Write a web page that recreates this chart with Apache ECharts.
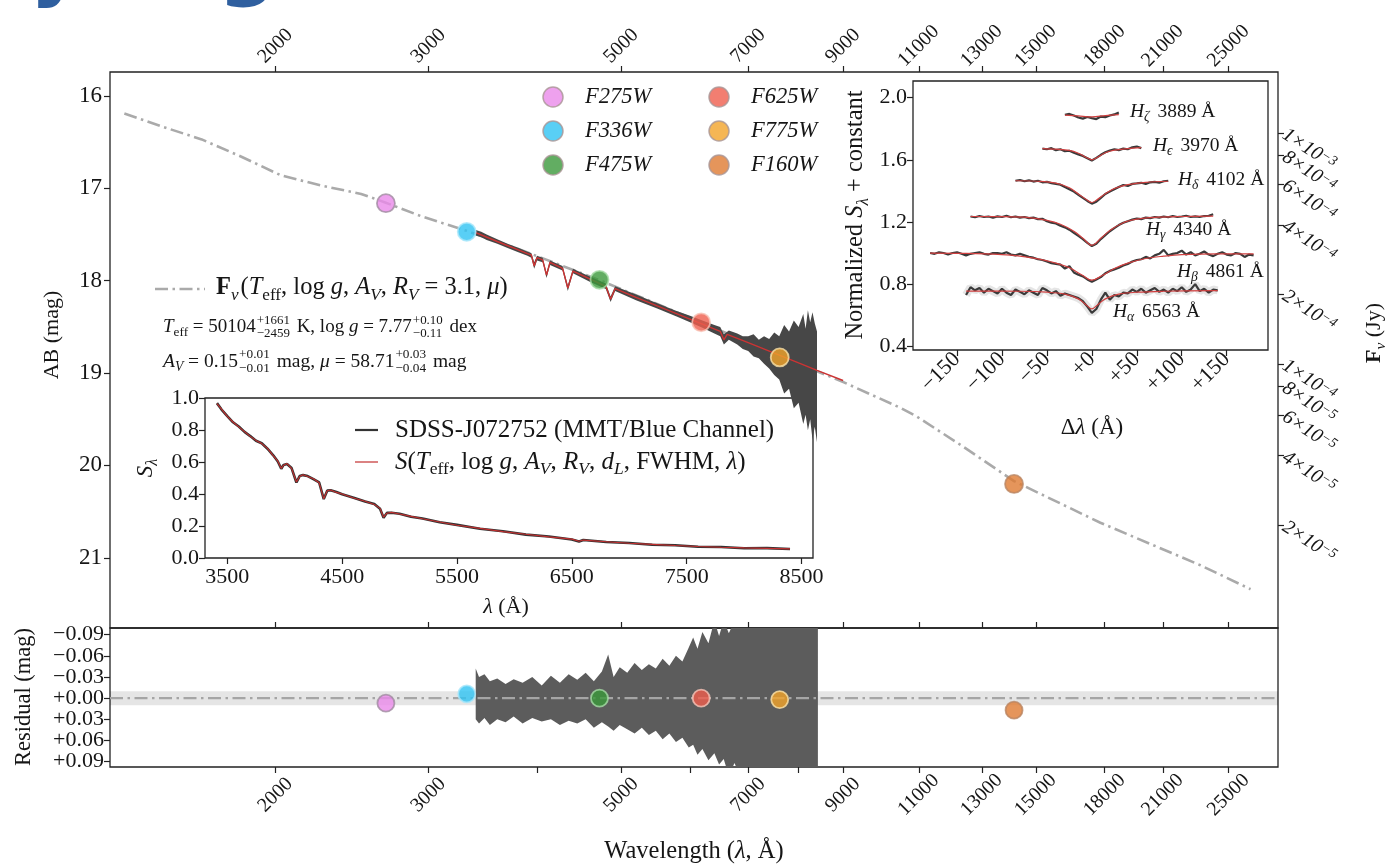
<!DOCTYPE html>
<html><head><meta charset="utf-8">
<script src="https://cdn.jsdelivr.net/npm/echarts@6/dist/echarts.min.js"></script>
<style>html,body{margin:0;padding:0;background:#fff}#c{width:1388px;height:865px}</style>
</head><body><div id="c"></div><script>
// ---------------- DATA ----------------
const waveTickLabels = [2000,3000,5000,7000,9000,11000,13000,15000,18000,21000,25000];
const waveMinorTicks = [4000,6000,8000];
const magTicks = [16,17,18,19,20,21];
const fluxTicks = [1e-3,8e-4,6e-4,4e-4,2e-4,1e-4,8e-5,6e-5,4e-5,2e-5];
const residTicks = [-0.09,-0.06,-0.03,0,0.03,0.06,0.09];
const insetWaveTicks = [3500,4500,5500,6500,7500,8500];
const insetFluxTicks = [0,0.2,0.4,0.6,0.8,1.0];
const dlTicks = [-150,-100,-50,0,50,100,150];
const normTicks = [0.4,0.8,1.2,1.6,2.0];

const filterNames = ['F275W','F336W','F475W','F625W','F775W','F160W'];
const filterWave  = [2680, 3320, 4720, 6180, 7610, 14160];
const filterMag   = [17.16, 17.47, 17.99, 18.45, 18.83, 20.20];
const filterResid = [0.007, -0.006, 0.0, 0.0, 0.002, 0.017];
const filterColors = ['#ea8aea','#2fc3f3','#3b993b','#ef5e4d','#f2a42a','#de7b32'];
const filterEdges  = ['#a08ca0','#a8e6fa','#a6dca6','#f7c4b8','#fbe2a8','#b98462'];

// SED model (dash-dot)
const modelWave = [1340,1480,1645,1830,2030,2260,2510,2670,2940,3320,3840,4740,6180,7640,9020,10500,10940,12300,14160,17800,23200,26500];
const modelMag  = [16.19,16.33,16.47,16.66,16.86,16.97,17.06,17.15,17.30,17.46,17.67,18.00,18.45,18.82,19.10,19.38,19.47,19.78,20.17,20.62,21.08,21.34];

// observed spectrum in AB (envelope of the noisy trace)
const specWave = [3400,3450,3500,3600,3700,3800,3900,3940,3970,4000,4060,4102,4140,4280,4340,4400,4600,4800,4861,4920,5200,5500,5800,6000,6200,6400,6500,6563,6650,6800,6900,7000,7100,7200,7300,7400,7500,7600,7700,7800,7900,8000,8100,8150,8200,8250,8300,8350,8400];
const specHi   = [17.45,17.47,17.50,17.55,17.60,17.64,17.685,17.70,17.80,17.73,17.75,17.91,17.78,17.84,18.05,17.87,17.955,18.03,18.17,18.06,18.15,18.245,18.33,18.38,18.43,18.48,18.50,18.58,18.54,18.57,18.60,18.60,18.58,18.64,18.60,18.63,18.56,18.60,18.48,18.55,18.43,18.50,18.36,18.52,18.32,18.45,18.34,18.46,18.55];
const specLo   = [17.51,17.53,17.56,17.60,17.645,17.69,17.73,17.75,17.87,17.78,17.80,17.97,17.83,17.89,18.11,17.92,18.01,18.09,18.23,18.11,18.21,18.30,18.39,18.45,18.51,18.57,18.60,18.69,18.64,18.69,18.74,18.76,18.82,18.84,18.90,18.95,19.02,19.07,19.22,19.17,19.38,19.32,19.55,19.45,19.62,19.50,19.72,19.58,19.75];
// best-fit spectral model in AB
const fitWave = [3400,3600,3800,3900,3940,3970,4000,4060,4102,4140,4280,4340,4400,4600,4800,4861,4920,5200,5500,6000,6500,6563,6620,7000,7500,8000,8400,9000];
const fitMag  = [17.48,17.575,17.664,17.707,17.72,17.84,17.75,17.775,17.94,17.80,17.865,18.08,17.895,17.98,18.06,18.20,18.085,18.18,18.273,18.416,18.548,18.64,18.58,18.67,18.783,18.89,18.97,19.08];

// residuals of the spectrum (envelope)
const residWave = [3400,3430,3480,3530,3600,3680,3760,3850,3950,4050,4150,4250,4350,4450,4550,4650,4750,4830,4900,4980,5080,5180,5280,5380,5480,5580,5680,5780,5880,5980,6050,6120,6200,6300,6400,6480,6560,6650,6750,6850,6950,7050,7150,7250,7400,7600,7800,8000,8200,8420];
const residUp   = [-0.042,-0.030,-0.034,-0.024,-0.028,-0.020,-0.027,-0.022,-0.030,-0.018,-0.032,-0.022,-0.034,-0.026,-0.036,-0.024,-0.038,-0.062,-0.030,-0.044,-0.036,-0.050,-0.040,-0.048,-0.042,-0.056,-0.046,-0.060,-0.052,-0.072,-0.086,-0.070,-0.094,-0.078,-0.11,-0.088,-0.11,-0.092,-0.11,-0.11,-0.11,-0.11,-0.11,-0.11,-0.11,-0.11,-0.11,-0.11,-0.11,-0.11];
const residDown = [0.030,0.036,0.028,0.038,0.030,0.034,0.026,0.036,0.028,0.033,0.030,0.038,0.032,0.036,0.030,0.042,0.034,0.040,0.046,0.038,0.044,0.050,0.042,0.052,0.046,0.058,0.050,0.062,0.056,0.070,0.066,0.080,0.072,0.088,0.078,0.094,0.086,0.11,0.092,0.11,0.11,0.11,0.11,0.11,0.11,0.11,0.11,0.11,0.11,0.11];

// inset: normalised spectrum
const insetWave  = [3410,3450,3500,3550,3600,3650,3700,3750,3800,3850,3900,3940,3970,3990,4020,4060,4102,4130,4160,4200,4250,4300,4340,4370,4400,4450,4500,4600,4700,4780,4830,4861,4890,4930,5000,5100,5200,5350,5500,5700,5900,6100,6300,6500,6563,6600,6800,7000,7200,7400,7600,7800,8000,8200,8400];
const insetObs   = [0.968,0.928,0.887,0.848,0.822,0.788,0.762,0.733,0.717,0.683,0.642,0.603,0.558,0.582,0.588,0.562,0.472,0.512,0.518,0.512,0.493,0.472,0.368,0.421,0.423,0.412,0.398,0.377,0.353,0.337,0.308,0.252,0.282,0.283,0.277,0.258,0.247,0.223,0.207,0.183,0.167,0.146,0.134,0.116,0.103,0.113,0.100,0.094,0.083,0.080,0.070,0.069,0.061,0.062,0.056];
const insetModel = [0.965,0.930,0.885,0.850,0.820,0.790,0.760,0.735,0.715,0.685,0.640,0.605,0.560,0.580,0.590,0.560,0.475,0.510,0.520,0.510,0.495,0.470,0.370,0.420,0.425,0.410,0.400,0.375,0.355,0.335,0.310,0.255,0.280,0.285,0.275,0.260,0.245,0.225,0.205,0.185,0.165,0.148,0.132,0.118,0.105,0.112,0.102,0.092,0.085,0.078,0.072,0.067,0.063,0.060,0.057];

// inset: Balmer line profiles (observed sampled every 5 Å, model at listed offsets)
const lineNames = ['ζ','ϵ','δ','γ','β','α'];
const lineRest  = ['3889','3970','4102','4340','4861','6563'];
const zetaStart = -30, epsStart = -55, deltaStart = -85, gammaStart = -135, betaStart = -180, alphaStart = -140;
const zetaObs  = [1.89,1.895,1.885,1.872,1.865,1.875,1.868,1.862,1.878,1.874,1.885,1.892,1.905];
const epsObs   = [1.672,1.668,1.675,1.662,1.668,1.655,1.658,1.645,1.635,1.625,1.61,1.595,1.612,1.632,1.648,1.66,1.668,1.662,1.672,1.668,1.68,1.685,1.675];
const deltaObs = [1.465,1.47,1.462,1.468,1.46,1.465,1.455,1.458,1.45,1.445,1.44,1.425,1.41,1.395,1.375,1.355,1.335,1.318,1.33,1.355,1.38,1.395,1.41,1.425,1.438,1.432,1.445,1.448,1.452,1.445,1.455,1.458,1.452,1.462,1.465];
const gammaObs = [1.235,1.23,1.238,1.232,1.235,1.228,1.236,1.232,1.24,1.23,1.235,1.228,1.232,1.225,1.228,1.218,1.22,1.205,1.195,1.19,1.175,1.165,1.15,1.13,1.11,1.09,1.065,1.045,1.06,1.09,1.115,1.14,1.16,1.18,1.195,1.205,1.215,1.222,1.218,1.228,1.225,1.232,1.228,1.235,1.23,1.238,1.232,1.235,1.24,1.232,1.236,1.232,1.238,1.24,1.25];
const betaObs  = [1.0,0.995,1.005,1.0,0.99,1.0,1.005,0.995,0.985,0.995,1.0,1.005,0.995,0.99,1.0,1.0,0.995,1.005,0.99,0.985,0.995,0.985,0.975,0.97,0.96,0.955,0.945,0.935,0.93,0.925,0.9,0.915,0.875,0.86,0.85,0.83,0.815,0.83,0.845,0.87,0.885,0.895,0.905,0.92,0.93,0.945,0.955,0.96,0.975,0.965,0.985,0.995,1.02,0.985,0.995,1.0,1.015,0.99,1.005,0.985,0.995,1.01,0.99,0.98,0.995,1.005,0.99,0.985,1.0,0.995,0.975,0.99,0.985];
const alphaObs = [0.73,0.78,0.76,0.775,0.745,0.77,0.755,0.74,0.77,0.745,0.73,0.765,0.75,0.735,0.76,0.745,0.73,0.775,0.76,0.74,0.755,0.725,0.74,0.73,0.72,0.71,0.69,0.655,0.615,0.64,0.70,0.745,0.70,0.73,0.72,0.745,0.74,0.765,0.75,0.77,0.745,0.76,0.775,0.75,0.765,0.745,0.77,0.755,0.78,0.75,0.765,0.80,0.755,0.77,0.745,0.765,0.76];
const zetaModelX  = [-30,-15,0,15,30];
const zetaModel   = [1.888,1.882,1.876,1.884,1.89];
const epsModelX   = [-55,-40,-25,-15,-5,0,5,15,25,40,55];
const epsModel    = [1.672,1.668,1.66,1.642,1.612,1.6,1.612,1.645,1.662,1.672,1.678];
const deltaModelX = [-85,-60,-40,-25,-15,-5,0,5,15,25,40,60,85];
const deltaModel  = [1.465,1.462,1.45,1.42,1.38,1.34,1.325,1.34,1.382,1.415,1.44,1.455,1.462];
const gammaModelX = [-135,-100,-70,-50,-35,-20,-10,0,10,20,35,50,70,100,135];
const gammaModel  = [1.235,1.234,1.228,1.21,1.185,1.14,1.095,1.05,1.095,1.145,1.195,1.218,1.23,1.235,1.238];
const betaModelX  = [-180,-140,-100,-80,-60,-40,-25,-10,0,10,25,40,60,80,100,140,180];
const betaModel   = [1.0,0.998,0.99,0.98,0.962,0.935,0.905,0.855,0.825,0.85,0.9,0.935,0.965,0.98,0.99,0.995,0.995];
const alphaModelX = [-140,-80,-50,-30,-15,-5,0,5,15,30,50,80,140];
const alphaModel  = [0.755,0.754,0.748,0.735,0.705,0.66,0.64,0.66,0.705,0.735,0.748,0.754,0.758];

// ---------------- HELPERS ----------------
const FONT = 'Liberation Serif';
const INK = '#161616';
const L = Math.log10;
const ab = f => -2.5 * Math.log10(f / 3631);
const WMIN = L(1290), WMAX = L(28500);
const cx = document.createElement('canvas').getContext('2d');
function fstr(sz, it, b){ return (it?'italic ':'')+(b?'bold ':'')+sz+'px "'+FONT+'"'; }
function measure(t, sz, it, b){ cx.font = fstr(sz,it,b); return cx.measureText(t).width; }
function txt(x,y,t,sz,it,b,color){
  return {type:'text', x, y, silent:true, style:{text:t, fontSize:sz, fontFamily:FONT, fontStyle: it?'italic':'normal', fontWeight: b?'bold':'normal', fill: color||INK, align:'left', verticalAlign:'middle'}};
}
function mathRow(parts, size, color){
  let x = 0; const ch = [];
  for (const p of parts){
    if (typeof p === 'string'){ ch.push(txt(x,0,p,size,false,false,color)); x += measure(p,size,false,false); }
    else if (p.hi !== undefined){
      const s = size*0.68;
      const w = Math.max(measure(p.hi,s), measure(p.lo,s));
      ch.push(txt(x+1, -size*0.36, p.hi, s,false,false,color));
      ch.push(txt(x+1, size*0.36, p.lo, s,false,false,color));
      x += w + 3;
    } else {
      const s = (p.sub||p.sup) ? size*0.7 : size;
      const dy = p.sub ? size*0.3 : (p.sup ? -size*0.35 : 0);
      ch.push(txt(x + (p.dx||0), dy + (p.dy||0), p.t, s, p.it, p.b, color));
      x += measure(p.t, s, p.it, p.b) + (p.dx||0) + (p.after||0);
    }
  }
  return {children: ch, width: x};
}
function mathGroup(x, y, parts, size, opts){
  opts = opts || {};
  const r = mathRow(parts, size, opts.color);
  const ox = opts.anchor === 'center' ? -r.width/2 : 0;
  r.children.forEach(c => c.x += ox);
  return {type:'group', x, y, rotation: opts.rot || 0, children: r.children, silent:true};
}
function seqData(start, step, arr){ return arr.map((v,i)=>[start + i*step, v]); }
function pairData(xs, ys){ return xs.map((v,i)=>[v, ys[i]]); }

function envelope(xIdx, yIdx, xs, hi, lo, xf, color, z){
  return { type:'custom', xAxisIndex:xIdx, yAxisIndex:yIdx, z, silent:true, clip:true,
    data:[[xf(xs[0]), hi[0]]],
    renderItem(params, api){
      const pts = [];
      for (let i=0;i<xs.length;i++) pts.push(api.coord([xf(xs[i]), hi[i]]));
      for (let i=xs.length-1;i>=0;i--) pts.push(api.coord([xf(xs[i]), lo[i]]));
      const cs = params.coordSys;
      return {type:'polygon', shape:{points:pts}, style:{fill:color},
        clipPath:{type:'rect', shape:{x:cs.x, y:cs.y, width:cs.width, height:cs.height}}};
    }};
}

const tickStyle = {show:true, inside:false, length:6, lineStyle:{color:'#222', width:1.2}};
const noLine = {show:false, onZero:false};
function lab(extra){ return Object.assign({show:true, color:INK, fontFamily:FONT, fontSize:22, showMinLabel:true, showMaxLabel:true, hideOverlap:false}, extra); }
const waveFmt = v => String(Math.round(Math.pow(10, v)));
const even = (_, i) => i % 2 === 0, odd = (_, i) => i % 2 === 1;

// ---------------- CHART ----------------
const chart = echarts.init(document.getElementById('c'), null, {renderer:'canvas'});
const gridBase = {show:true, borderColor:'#222', borderWidth:1.3, backgroundColor:'transparent', containLabel:false, outerBoundsMode:'none'};
const fluxMags = fluxTicks.map(ab);
const fluxFmt = v => {
  const i = fluxMags.findIndex(m => Math.abs(m - v) < 1e-6);
  if (i < 0) return '';
  const f = fluxTicks[i];
  const e = Math.floor(Math.log10(f) + 1e-9);
  const m = Math.round(f / Math.pow(10, e));
  return '{m|' + m + '×10}{e|−' + (-e) + '}';
};
const fluxRich = {m:{fontSize:20, fontStyle:'italic', fontFamily:FONT, color:INK}, e:{fontSize:14, fontStyle:'italic', fontFamily:FONT, color:INK, verticalAlign:'top', padding:[0,0,4,0]}};
const residFmt = v => (v < 0 ? '−' : '+') + Math.abs(v).toFixed(2);

function fluxAxis(vals){
  return {type:'value', gridIndex:0, position:'right', offset:0, inverse:true, min:15.74, max:21.76, splitLine:{show:false}, axisLine:noLine,
    axisTick:Object.assign({customValues: vals}, tickStyle),
    axisLabel:lab({customValues: vals, rotate:-33, margin:6, formatter: fluxFmt, rich: fluxRich})};
}
function residAxis(vals){
  return {type:'value', gridIndex:1, position:'left', offset:0, inverse:true, min:-0.0995, max:0.0975, splitLine:{show:false}, axisLine:noLine,
    axisTick:Object.assign({customValues: vals}, tickStyle),
    axisLabel:lab({customValues: vals, margin:6, fontSize:22, formatter: residFmt})};
}

const option = {
  animation:false,
  backgroundColor:'#fff',
  grid:[
    Object.assign({left:110, top:72, width:1168, height:556}, gridBase),
    Object.assign({left:110, top:628, width:1168, height:139}, gridBase),
    Object.assign({left:205, top:398, width:608, height:160}, gridBase),
    Object.assign({left:913, top:81, width:355, height:269}, gridBase)
  ],
  xAxis:[
    {type:'value', gridIndex:0, position:'top', min:WMIN, max:WMAX, splitLine:{show:false}, axisLine:noLine,
     axisTick:Object.assign({customValues: waveTickLabels.map(L)}, tickStyle),
     axisLabel:lab({customValues: waveTickLabels.map(L), rotate:-45, align:'center', verticalAlign:'middle', formatter:waveFmt, fontSize:20, margin:26})},
    {type:'value', gridIndex:1, position:'bottom', min:WMIN, max:WMAX, splitLine:{show:false}, axisLine:noLine,
     axisTick:Object.assign({customValues: waveTickLabels.concat(waveMinorTicks).map(L)}, tickStyle),
     axisLabel:lab({customValues: waveTickLabels.map(L), rotate:45, align:'center', verticalAlign:'middle', formatter:waveFmt, fontSize:20, margin:28})},
    {type:'value', gridIndex:1, position:'top', min:WMIN, max:WMAX, splitLine:{show:false}, axisLine:noLine,
     axisTick:Object.assign({customValues: waveTickLabels.map(L)}, tickStyle), axisLabel:{show:false}},
    {type:'value', gridIndex:2, position:'bottom', min:3306, max:8600, splitLine:{show:false}, axisLine:noLine,
     axisTick:Object.assign({customValues: insetWaveTicks}, tickStyle),
     axisLabel:lab({customValues: insetWaveTicks, margin:8, formatter: v => String(v)})},
    {type:'value', gridIndex:3, position:'bottom', min:-199, max:196, splitLine:{show:false}, axisLine:noLine,
     axisTick:Object.assign({customValues: dlTicks}, tickStyle),
     axisLabel:lab({customValues: dlTicks, rotate:45, margin:6, formatter: v => v<0 ? '−'+(-v) : '+'+v})}
  ],
  yAxis:[
    {type:'value', gridIndex:0, position:'left', inverse:true, min:15.74, max:21.76, splitLine:{show:false}, axisLine:noLine,
     axisTick:Object.assign({customValues: magTicks}, tickStyle),
     axisLabel:lab({customValues: magTicks, margin:8, fontSize:23})},
    fluxAxis(fluxMags.filter(even)),
    fluxAxis(fluxMags.filter(odd)),
    residAxis(residTicks.filter(even)),
    residAxis(residTicks.filter(odd)),
    {type:'value', gridIndex:2, position:'left', min:0, max:1.0, splitLine:{show:false}, axisLine:noLine,
     axisTick:Object.assign({customValues: insetFluxTicks}, tickStyle),
     axisLabel:lab({customValues: insetFluxTicks, margin:6, formatter: v => v.toFixed(1)})},
    {type:'value', gridIndex:3, position:'left', min:0.376, max:2.107, splitLine:{show:false}, axisLine:noLine,
     axisTick:Object.assign({customValues: normTicks}, tickStyle),
     axisLabel:lab({customValues: normTicks, margin:6, formatter: v => v.toFixed(1)})}
  ],
  series:[]
};

const S = option.series;
// main panel
S.push({type:'line', xAxisIndex:0, yAxisIndex:0, z:2, symbol:'none', silent:true,
  data: modelWave.map((w,i)=>[L(w), modelMag[i]]),
  lineStyle:{color:'#aaaaaa', width:2.6, type:[13,4.5,2.5,4.5]}});
S.push(envelope(0, 0, specWave, specHi, specLo, L, '#474747', 3));
S.push({type:'line', xAxisIndex:0, yAxisIndex:0, z:4, symbol:'none', silent:true,
  data: fitWave.map((w,i)=>[L(w), fitMag[i]]), lineStyle:{color:'#cc3333', width:1.4}});
S.push({type:'scatter', xAxisIndex:0, yAxisIndex:0, z:6, symbolSize:18, silent:true,
  data: filterWave.map((w,i)=>({value:[L(w), filterMag[i]], itemStyle:{color:filterColors[i], borderColor:filterEdges[i], borderWidth:1.8}}))});
// residual panel
S.push(envelope(2, 3, residWave, residUp, residDown, L, '#5c5c5c', 2));
S.push({type:'line', xAxisIndex:2, yAxisIndex:3, z:3, symbol:'none', silent:true,
  data:[[WMIN,0],[WMAX,0]], lineStyle:{color:'#a5a5a5', width:2.2, type:[13,4.5,2.5,4.5]},
  markArea:{silent:true, itemStyle:{color:'rgba(0,0,0,0.1)'}, data:[[{yAxis:-0.01},{yAxis:0.01}]]}});
S.push({type:'scatter', xAxisIndex:2, yAxisIndex:3, z:6, symbolSize:17, silent:true,
  data: filterWave.map((w,i)=>({value:[L(w), filterResid[i]], itemStyle:{color:filterColors[i], borderColor:filterEdges[i], borderWidth:1.8}}))});
// inset spectrum
S.push({type:'line', xAxisIndex:3, yAxisIndex:5, z:3, symbol:'none', silent:true,
  data: pairData(insetWave, insetObs), lineStyle:{color:'#333', width:2.6}});
S.push({type:'line', xAxisIndex:3, yAxisIndex:5, z:4, symbol:'none', silent:true,
  data: pairData(insetWave, insetModel), lineStyle:{color:'#c43030', width:1.1}});
// inset profiles
const obsSets = [[zetaStart,zetaObs],[epsStart,epsObs],[deltaStart,deltaObs],[gammaStart,gammaObs],[betaStart,betaObs],[alphaStart,alphaObs]];
const modSets = [[zetaModelX,zetaModel],[epsModelX,epsModel],[deltaModelX,deltaModel],[gammaModelX,gammaModel],[betaModelX,betaModel],[alphaModelX,alphaModel]];
S.push({type:'line', xAxisIndex:4, yAxisIndex:6, z:2, symbol:'none', silent:true,
  data: seqData(alphaStart, 5, alphaObs), lineStyle:{color:'rgba(0,0,0,0.10)', width:8}});
obsSets.forEach(([st, arr]) => S.push({type:'line', xAxisIndex:4, yAxisIndex:6, z:3, symbol:'none', silent:true,
  data: seqData(st, 5, arr), lineStyle:{color:'#3a3a3a', width:2.2}}));
modSets.forEach(([xs, ys]) => S.push({type:'line', xAxisIndex:4, yAxisIndex:6, z:4, symbol:'none', silent:true, smooth:0.35,
  data: pairData(xs, ys), lineStyle:{color:'#d04040', width:1.2}}));

// ---------------- GRAPHIC TEXT ----------------
const G = [];
// fragments of large blue lettering cut at top edge
G.push({type:'text', x:30, y:10, silent:true, style:{text:'y', fontSize:82, fontFamily:'DejaVu Sans', fontWeight:'bold', fill:'#2f5f9f', align:'left', verticalAlign:'bottom'}});
G.push({type:'text', x:218, y:10, silent:true, style:{text:'g', fontSize:82, fontFamily:'DejaVu Sans', fontWeight:'bold', fill:'#2f5f9f', align:'left', verticalAlign:'bottom'}});

// axis titles
G.push(mathGroup(52, 335, ['AB (mag)'], 22, {anchor:'center', rot:Math.PI/2}));
G.push(mathGroup(24, 697, ['Residual (mag)'], 22.5, {anchor:'center', rot:Math.PI/2}));
G.push(mathGroup(694, 852, ['Wavelength (', {t:'λ', it:true}, ', Å)'], 24.5, {anchor:'center'}));
G.push(mathGroup(1374, 333, [{t:'F', b:true}, {t:'ν', it:true, sub:true}, ' (Jy)'], 22, {anchor:'center', rot:Math.PI/2}));
G.push(mathGroup(506, 607, [{t:'λ', it:true}, ' (Å)'], 22, {anchor:'center'}));
G.push(mathGroup(146, 468, [{t:'S', it:true}, {t:'λ', it:true, sub:true}], 23, {anchor:'center', rot:Math.PI/2}));
G.push(mathGroup(1092, 428, ['Δ', {t:'λ', it:true}, ' (Å)'], 23, {anchor:'center'}));
G.push(mathGroup(856, 215, ['Normalized ', {t:'S', it:true}, {t:'λ', it:true, sub:true}, ' + constant'], 24.5, {anchor:'center', rot:Math.PI/2}));

// model legend
G.push({type:'line', silent:true, shape:{x1:155, y1:289, x2:205, y2:289}, style:{stroke:'#aaaaaa', lineWidth:2.6, lineDash:[13,4.5,2.5,4.5]}});
G.push(mathGroup(216, 288, [{t:'F', b:true}, {t:'ν', it:true, sub:true, after:2}, '(', {t:'T', it:true}, {t:'eff', sub:true}, ', log ', {t:'g', it:true}, ', ', {t:'A', it:true}, {t:'V', it:true, sub:true}, ', ', {t:'R', it:true}, {t:'V', it:true, sub:true}, ' = 3.1, ', {t:'μ', it:true}, ')'], 24.5));
G.push(mathGroup(163, 327, [{t:'T', it:true}, {t:'eff', sub:true}, ' = 50104', {hi:'+1661', lo:'−2459'}, ' K, log ', {t:'g', it:true}, ' = 7.77', {hi:'+0.10', lo:'−0.11'}, ' dex'], 19));
G.push(mathGroup(163, 362, [{t:'A', it:true}, {t:'V', it:true, sub:true}, ' = 0.15', {hi:'+0.01', lo:'−0.01'}, ' mag, ', {t:'μ', it:true}, ' = 58.71', {hi:'+0.03', lo:'−0.04'}, ' mag'], 19.5));

// filter legend
const legPos = [[553,97],[553,131],[553,165],[719,97],[719,131],[719,165]];
filterNames.forEach((n,i) => {
  const [x,y] = legPos[i];
  G.push({type:'circle', silent:true, shape:{cx:x, cy:y, r:10}, style:{fill:filterColors[i], opacity:0.8, stroke:'#a89494', lineWidth:1.5}});
  G.push(txt(x+32, y, n, 22.5, true, false));
});

// inset spectrum legend
G.push({type:'line', silent:true, shape:{x1:355, y1:430, x2:378, y2:430}, style:{stroke:'#333', lineWidth:2.2}});
G.push(txt(395, 430, 'SDSS-J072752 (MMT/Blue Channel)', 25));
G.push({type:'line', silent:true, shape:{x1:355, y1:462, x2:378, y2:462}, style:{stroke:'#c43030', lineWidth:1.2}});
G.push(mathGroup(395, 462, [{t:'S', it:true}, '(', {t:'T', it:true}, {t:'eff', sub:true}, ', log ', {t:'g', it:true}, ', ', {t:'A', it:true}, {t:'V', it:true, sub:true}, ', ', {t:'R', it:true}, {t:'V', it:true, sub:true}, ', ', {t:'d', it:true}, {t:'L', it:true, sub:true}, ', FWHM, ', {t:'λ', it:true}, ')'], 25));

// Balmer line labels
const lineLabelPos = [[1130,112],[1153,146],[1178,180],[1146,230],[1177,272],[1113,312]];
lineNames.forEach((n,i) => {
  const [x,y] = lineLabelPos[i];
  G.push(mathGroup(x, y, [{t:'H', it:true}, {t:n, it:true, sub:true, after:3}, ' ' + lineRest[i] + ' Å'], 19.5));
});

option.graphic = {elements: G};
chart.setOption(option);
</script></body></html>
